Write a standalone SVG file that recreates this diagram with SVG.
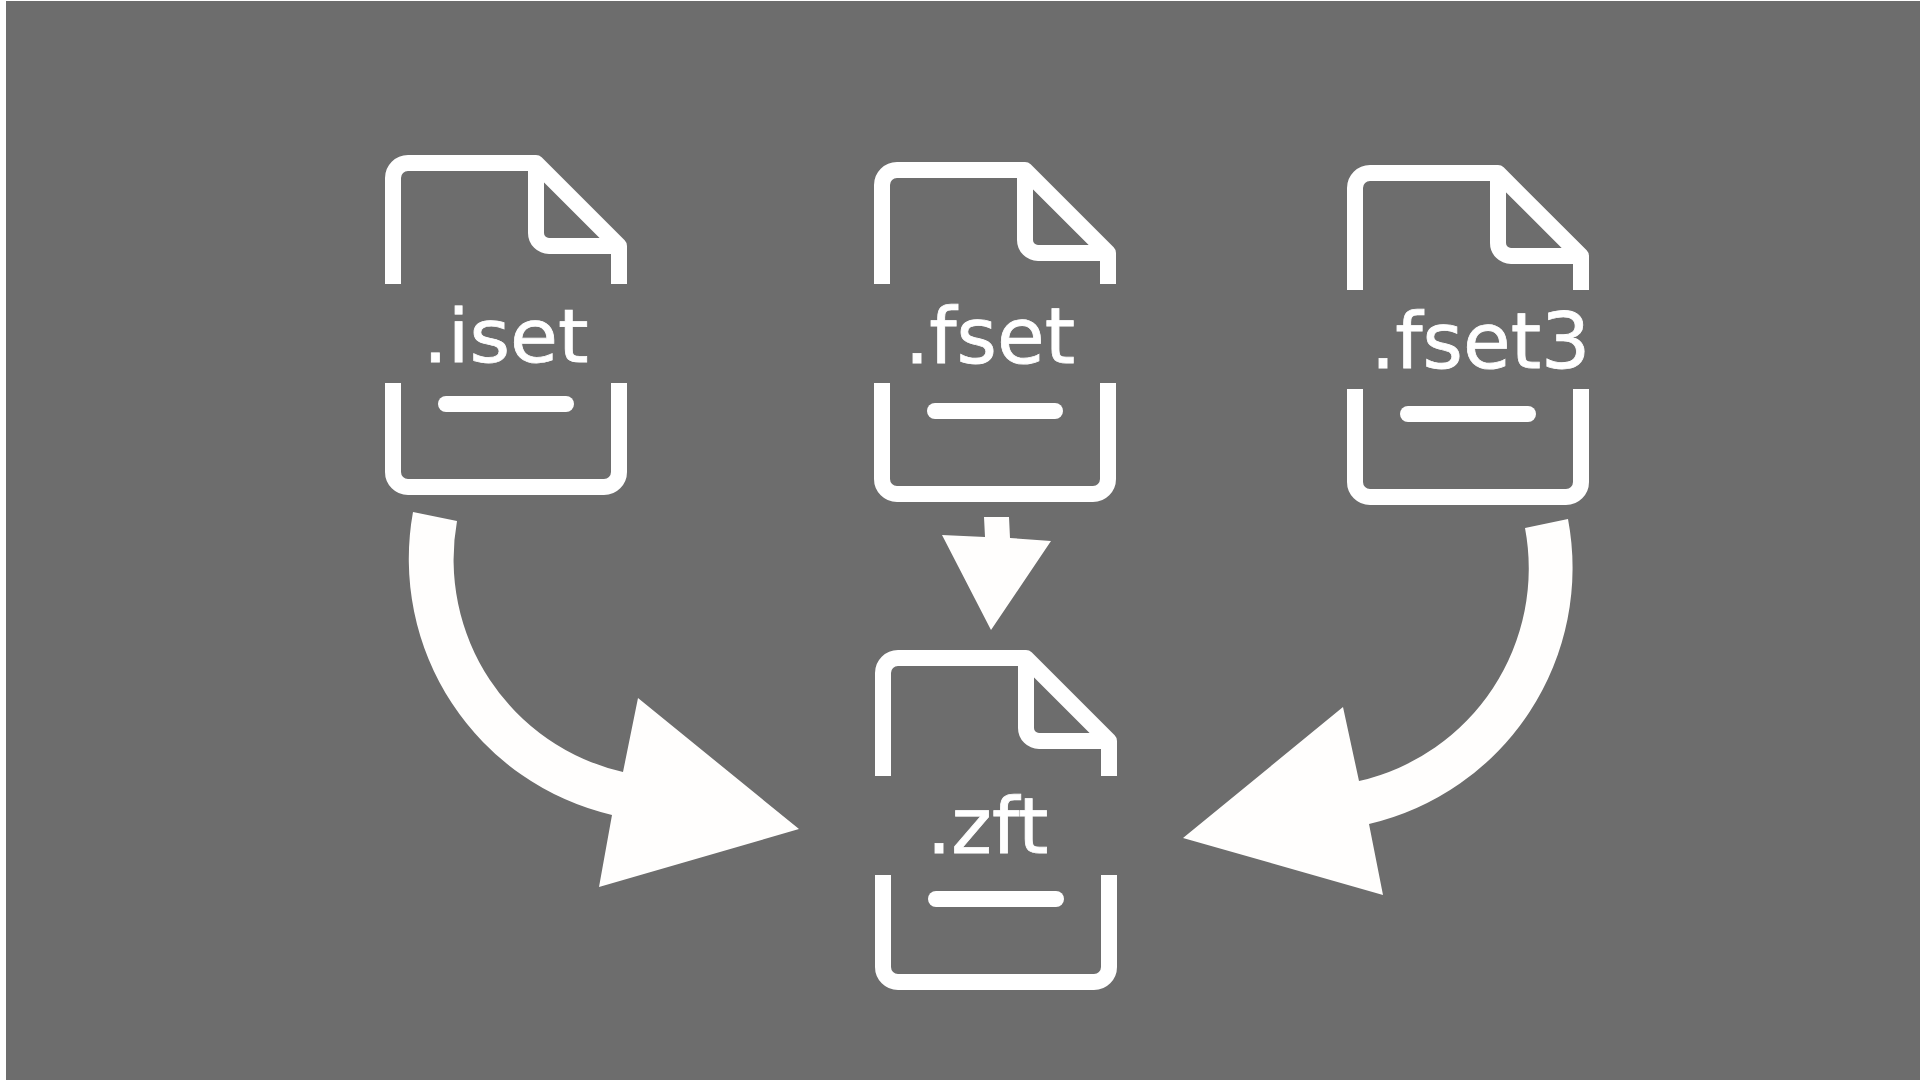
<svg xmlns="http://www.w3.org/2000/svg" width="1920" height="1080" viewBox="0 0 1920 1080">
<style>
.ic{fill:none;stroke:#fff;stroke-width:16;stroke-linejoin:round}
.lb{font-family:"DejaVu Sans",sans-serif;font-size:77.5px;fill:#fff;stroke:#fff;stroke-width:0.8;text-rendering:geometricPrecision}
.ar{fill:#fffefd}
.gap{fill:#6d6d6d}
</style>
<defs>
<g id="icon">
<path class="ic" d="M393,310V178A15,15 0 0 1 408,163H536L619,246V472A15,15 0 0 1 604,487H408A15,15 0 0 1 393,472V310"/>
<path class="ic" d="M536,163V233A13,13 0 0 0 549,246H619"/>
<path class="ic" stroke-linecap="round" d="M446,404H566"/>
</g>
</defs>
<rect width="1920" height="1080" fill="#fff"/>
<rect x="6" y="1" width="1914" height="1079" fill="#6d6d6d"/>
<g id="connectors">
<path id="arrow-iset" class="ar" d="M413,512A263,263 0 0 0 612,815L599,887L799,829L638,698L623,772A218,218 0 0 1 457,521Z"/>
<path id="arrow-fset" class="ar" d="M984,517H1009L1010,538L1051,541L991,630L942,535L985,537Z"/>
<path id="arrow-fset3" class="ar" d="M1568,519A263,263 0 0 1 1369,824L1383,895L1183,838L1343,707L1359,781A218,218 0 0 0 1525,528Z"/>
</g>
<g id="node-iset"><use href="#icon"/><rect class="gap" x="375" y="284" width="262" height="99"/><text class="lb" transform="translate(423,362) scale(1.006,0.955)">.iset</text></g>
<g id="node-fset"><use href="#icon" x="489" y="7"/><rect class="gap" x="864" y="284" width="262" height="99"/><text class="lb" x="904.7" y="363">.fset</text></g>
<g id="node-fset3"><use href="#icon" x="962" y="10"/><rect class="gap" x="1337" y="290" width="262" height="99"/><text class="lb" x="1370.7" y="368">.fset3</text></g>
<g id="node-zft"><use href="#icon" x="490" y="495"/><rect class="gap" x="865" y="776" width="262" height="99"/><text class="lb" x="926.7" y="853">.zft</text></g>
</svg>
